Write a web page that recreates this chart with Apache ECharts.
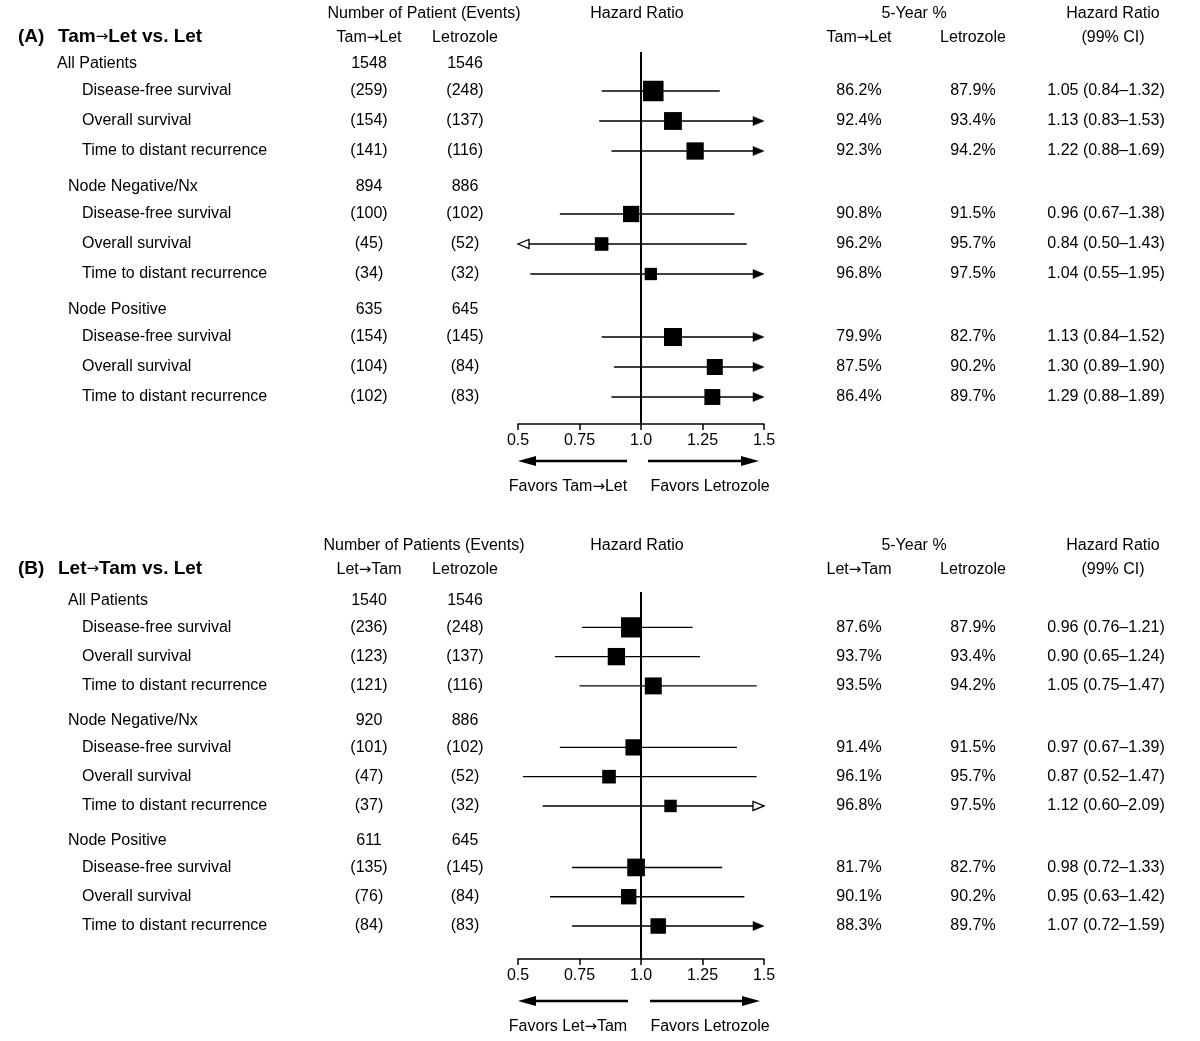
<!DOCTYPE html>
<html>
<head>
<meta charset="utf-8">
<script src="https://cdn.jsdelivr.net/npm/echarts@6/dist/echarts.min.js"></script>
<style>
html,body{margin:0;padding:0;background:#fff;}
#c{width:1200px;height:1041px;}
</style>
</head>
<body>
<div id="c"></div>
<script>
// ---------------- DATA ----------------
const groupNames = ['All Patients', 'Node Negative/Nx', 'Node Positive'];
const measureNames = ['Disease-free survival', 'Overall survival', 'Time to distant recurrence'];
const tickLabels = ['0.5', '0.75', '1.0', '1.25', '1.5'];

// Panel A: Tam→Let vs. Let
const aTitle = 'Tam→Let vs. Let';
const aArmName = 'Tam→Let';
const aCountHeader = 'Number of Patient (Events)';
const aPatientsArm = [1548, 894, 635];
const aPatientsLet = [1546, 886, 645];
const aEventsArm = [259, 154, 141, 100, 45, 34, 154, 104, 102];
const aEventsLet = [248, 137, 116, 102, 52, 32, 145, 84, 83];
const aFiveYearArm = [86.2, 92.4, 92.3, 90.8, 96.2, 96.8, 79.9, 87.5, 86.4];
const aFiveYearLet = [87.9, 93.4, 94.2, 91.5, 95.7, 97.5, 82.7, 90.2, 89.7];
const aHR = [1.05, 1.13, 1.22, 0.96, 0.84, 1.04, 1.13, 1.30, 1.29];
const aLower = [0.84, 0.83, 0.88, 0.67, 0.50, 0.55, 0.84, 0.89, 0.88];
const aUpper = [1.32, 1.53, 1.69, 1.38, 1.43, 1.95, 1.52, 1.90, 1.89];

// Panel B: Let→Tam vs. Let
const bTitle = 'Let→Tam vs. Let';
const bArmName = 'Let→Tam';
const bCountHeader = 'Number of Patients (Events)';
const bPatientsArm = [1540, 920, 611];
const bPatientsLet = [1546, 886, 645];
const bEventsArm = [236, 123, 121, 101, 47, 37, 135, 76, 84];
const bEventsLet = [248, 137, 116, 102, 52, 32, 145, 84, 83];
const bFiveYearArm = [87.6, 93.7, 93.5, 91.4, 96.1, 96.8, 81.7, 90.1, 88.3];
const bFiveYearLet = [87.9, 93.4, 94.2, 91.5, 95.7, 97.5, 82.7, 90.2, 89.7];
const bHR = [0.96, 0.90, 1.05, 0.97, 0.87, 1.12, 0.98, 0.95, 1.07];
const bLower = [0.76, 0.65, 0.75, 0.67, 0.52, 0.60, 0.72, 0.63, 0.72];
const bUpper = [1.21, 1.24, 1.47, 1.39, 1.47, 2.09, 1.33, 1.42, 1.59];

// ---------------- STYLE / LAYOUT ----------------
const FONT_FAMILY = '"Liberation Sans", Arial, Helvetica, sans-serif';
const FONT = '16px ' + FONT_FAMILY;
const BOLD = 'bold 19px ' + FONT_FAMILY;
const ARROW_FONT = 'normal 15px "DejaVu Sans"';
const X_MIN = 0.5, X_MAX = 1.5;
// vertical spacing between table rows (in row units)
const GAP = {headerToMeasure: 0.9, measureToMeasure: 1.0, measureToHeader: 1.2};

const panels = [
  {
    key: 'A', tag: '(A)', title: aTitle, arm: aArmName, countHeader: aCountHeader,
    d: {patArm: aPatientsArm, patLet: aPatientsLet, evArm: aEventsArm, evLet: aEventsLet,
        fyArm: aFiveYearArm, fyLet: aFiveYearLet, hr: aHR, lo: aLower, hi: aUpper},
    L: {top: 52, axisY: 424, yMin: -0.4, yMax: 12.0, h1: 14, h2: 38, titleY: 37,
        favY: 461, favTextY: 487, groupIndent: [0, 11, 11], openArrowRows: [6],
        favL: [627, 518], favR: [648, 759]}
  },
  {
    key: 'B', tag: '(B)', title: bTitle, arm: bArmName, countHeader: bCountHeader,
    d: {patArm: bPatientsArm, patLet: bPatientsLet, evArm: bEventsArm, evLet: bEventsLet,
        fyArm: bFiveYearArm, fyLet: bFiveYearLet, hr: bHR, lo: bLower, hi: bUpper},
    L: {top: 592, axisY: 959, yMin: -0.307, yMax: 12.227, h1: 546, h2: 570, titleY: 569,
        favY: 1001, favTextY: 1027, groupIndent: [11, 11, 11], openArrowRows: [7],
        favL: [628, 518], favR: [650, 760]}
  }
];

const columns = [
  {field: 'label', left: 57, width: 260, x: 0, align: 'left'},
  {field: 'c1', left: 319, width: 100, x: 0.5, align: 'center'},
  {field: 'c2', left: 415, width: 100, x: 0.5, align: 'center'},
  {field: 'p1', left: 809, width: 100, x: 0.5, align: 'center'},
  {field: 'p2', left: 923, width: 100, x: 0.5, align: 'center'},
  {field: 'hrText', left: 1036, width: 140, x: 0.5, align: 'center'}
];
const PLOT = {left: 518, width: 246};
const MEASURE_INDENT = 25;

function buildRows(d) {
  const rows = [];
  let pos = 0;
  groupNames.forEach((g, gi) => {
    if (gi > 0) pos += GAP.measureToHeader;
    rows.push({kind: 'group', gi: gi, pos: pos, label: g, c1: String(d.patArm[gi]), c2: String(d.patLet[gi]),
               p1: '', p2: '', hrText: ''});
    measureNames.forEach((m, mi) => {
      const i = gi * 3 + mi;
      pos += mi === 0 ? GAP.headerToMeasure : GAP.measureToMeasure;
      rows.push({
        kind: 'measure', pos: pos, label: m,
        c1: '(' + d.evArm[i] + ')', c2: '(' + d.evLet[i] + ')',
        p1: d.fyArm[i].toFixed(1) + '%', p2: d.fyLet[i].toFixed(1) + '%',
        hrText: d.hr[i].toFixed(2) + ' (' + d.lo[i].toFixed(2) + '–' + d.hi[i].toFixed(2) + ')',
        hr: d.hr[i], lo: d.lo[i], hi: d.hi[i], events: d.evArm[i] + d.evLet[i]
      });
    });
  });
  return rows;
}

const allEvents = [];
panels.forEach(p => p.d.evArm.forEach((v, i) => allEvents.push(v + p.d.evLet[i])));
const maxEvents = Math.max.apply(null, allEvents);
function boxSize(ev) { return 20.5 * Math.pow(ev / maxEvents, 0.25); }

function textStyle(text, align, font) {
  const s = {
    text: text, font: font || FONT, fill: '#000', textFill: '#000',
    align: align, textAlign: align, verticalAlign: 'middle', textVerticalAlign: 'middle'
  };
  if (text.indexOf('→') >= 0) {
    s.text = text.replace(/→/g, '{ar|→}');
    s.rich = {ar: {font: ARROW_FONT, textFont: ARROW_FONT, fontFamily: 'DejaVu Sans', fontSize: 15,
                   fontWeight: 'normal', fill: '#000', textFill: '#000'}};
  }
  return s;
}

const grids = [], xAxes = [], yAxes = [], series = [], graphics = [];

panels.forEach(p => {
  const rows = buildRows(p.d);
  const L = p.L;
  const height = L.axisY - L.top;

  // text columns
  columns.forEach(col => {
    grids.push({left: col.left, width: col.width, top: L.top, height: height, outerBoundsMode: 'none'});
    const gi = grids.length - 1;
    xAxes.push({type: 'value', min: 0, max: 1, show: false, gridIndex: gi});
    yAxes.push({type: 'value', inverse: true, min: L.yMin, max: L.yMax, show: false, gridIndex: gi});
    const data = [];
    rows.forEach((r, ri) => { if (r[col.field]) data.push([col.x, r.pos, ri]); });
    series.push({
      type: 'custom', xAxisIndex: xAxes.length - 1, yAxisIndex: yAxes.length - 1,
      silent: true, clip: false,
      encode: {x: 0, y: 1},
      data: data,
      renderItem: function (params, api) {
        const r = rows[api.value(2)];
        const pt = api.coord([api.value(0), api.value(1)]);
        let x = pt[0];
        if (col.field === 'label') {
          x += r.kind === 'group' ? L.groupIndent[r.gi] : MEASURE_INDENT;
        }
        return {type: 'text', x: x, y: pt[1], style: textStyle(r[col.field], col.align)};
      }
    });
  });

  // forest plot grid
  grids.push({left: PLOT.left, width: PLOT.width, top: L.top, height: height, outerBoundsMode: 'none'});
  const pg = grids.length - 1;
  xAxes.push({
    type: 'value', gridIndex: pg, min: X_MIN, max: X_MAX, interval: 0.25,
    axisLine: {show: true, onZero: false, lineStyle: {color: '#000', width: 1.5}},
    axisTick: {show: true, inside: false, length: 6, lineStyle: {color: '#000', width: 1.5}},
    axisLabel: {
      show: true, color: '#000', fontSize: 16, fontFamily: FONT_FAMILY, margin: 9,
      showMinLabel: true, showMaxLabel: true,
      formatter: v => tickLabels[Math.round((v - X_MIN) / 0.25)]
    },
    splitLine: {show: false}
  });
  yAxes.push({type: 'value', gridIndex: pg, inverse: true, min: L.yMin, max: L.yMax, show: false});
  const xi = xAxes.length - 1, yi = yAxes.length - 1;

  const measureRows = [];
  rows.forEach((r, ri) => { if (r.kind === 'measure') measureRows.push([r.hr, r.pos, r.lo, r.hi, r.events, ri]); });

  // CI lines with arrows
  series.push({
    type: 'custom', xAxisIndex: xi, yAxisIndex: yi, silent: true, clip: false, z: 3,
    encode: {x: 0, y: 1},
    data: measureRows,
    renderItem: function (params, api) {
      const yv = api.value(1), lo = api.value(2), hi = api.value(3), ri = api.value(5);
      const a = api.coord([Math.max(lo, X_MIN), yv]);
      const b = api.coord([Math.min(hi, X_MAX), yv]);
      const y = a[1];
      let x1 = a[0], x2 = b[0];
      const HL = 11, HW = 4.5;
      const open = L.openArrowRows.indexOf(ri) >= 0;
      const children = [];
      const leftArrow = lo <= X_MIN, rightArrow = hi > X_MAX;
      if (leftArrow) {
        const tip = x1;
        children.push({type: 'polygon', shape: {points: [[tip, y], [tip + HL, y - HW], [tip + HL, y + HW]]},
          style: {fill: open ? '#fff' : '#000', stroke: '#000', lineWidth: open ? 1.3 : 0.5}, z2: 2});
        x1 = tip + (open ? HL : HL - 1);
      }
      if (rightArrow) {
        const tip = x2;
        children.push({type: 'polygon', shape: {points: [[tip, y], [tip - HL, y - HW], [tip - HL, y + HW]]},
          style: {fill: open ? '#fff' : '#000', stroke: '#000', lineWidth: open ? 1.3 : 0.5}, z2: 2});
        x2 = tip - (open ? HL : HL - 1);
      }
      children.unshift({type: 'line', shape: {x1: x1, y1: y, x2: x2, y2: y},
        style: {stroke: '#000', lineWidth: 1.4}, z2: 1});
      return {type: 'group', children: children};
    }
  });

  // boxes + reference line
  series.push({
    type: 'scatter', xAxisIndex: xi, yAxisIndex: yi, silent: true, z: 4,
    symbol: 'rect',
    symbolSize: v => boxSize(v[4]),
    itemStyle: {color: '#000', opacity: 1},
    data: measureRows,
    markLine: {
      silent: true, symbol: ['none', 'none'], animation: false,
      label: {show: false},
      lineStyle: {color: '#000', width: 2, type: 'solid'},
      emphasis: {disabled: true},
      data: [{xAxis: 1}]
    }
  });

  // headers (text annotations)
  const hdr = (t, x, y, align, font) => graphics.push({type: 'text', x: x, y: y, silent: true,
    style: textStyle(t, align || 'center', font)});
  hdr(p.countHeader, 424, L.h1);
  hdr('Hazard Ratio', 637, L.h1);
  hdr('5-Year %', 914, L.h1);
  hdr('Hazard Ratio', 1113, L.h1);
  hdr(p.tag, 18, L.titleY, 'left', BOLD);
  hdr(p.title, 58, L.titleY, 'left', BOLD);
  hdr(p.arm, 369, L.h2);
  hdr('Letrozole', 465, L.h2);
  hdr(p.arm, 859, L.h2);
  hdr('Letrozole', 973, L.h2);
  hdr('(99% CI)', 1113, L.h2);

  // favors arrows
  const FHL = 18, FHW = 5;
  const y = L.favY;
  graphics.push({type: 'line', silent: true, shape: {x1: L.favL[0], y1: y, x2: L.favL[1] + FHL - 1, y2: y},
    style: {stroke: '#000', lineWidth: 2.5}});
  graphics.push({type: 'polygon', silent: true,
    shape: {points: [[L.favL[1], y], [L.favL[1] + FHL, y - FHW], [L.favL[1] + FHL, y + FHW]]},
    style: {fill: '#000'}});
  graphics.push({type: 'line', silent: true, shape: {x1: L.favR[0], y1: y, x2: L.favR[1] - FHL + 1, y2: y},
    style: {stroke: '#000', lineWidth: 2.5}});
  graphics.push({type: 'polygon', silent: true,
    shape: {points: [[L.favR[1], y], [L.favR[1] - FHL, y - FHW], [L.favR[1] - FHL, y + FHW]]},
    style: {fill: '#000'}});
  hdr('Favors ' + p.arm, 568, L.favTextY);
  hdr('Favors Letrozole', 710, L.favTextY);
});

const chart = echarts.init(document.getElementById('c'), null, {renderer: 'canvas'});
chart.setOption({
  backgroundColor: '#fff',
  animation: false,
  grid: grids,
  xAxis: xAxes,
  yAxis: yAxes,
  series: series,
  graphic: {elements: graphics}
});
</script>
</body>
</html>
